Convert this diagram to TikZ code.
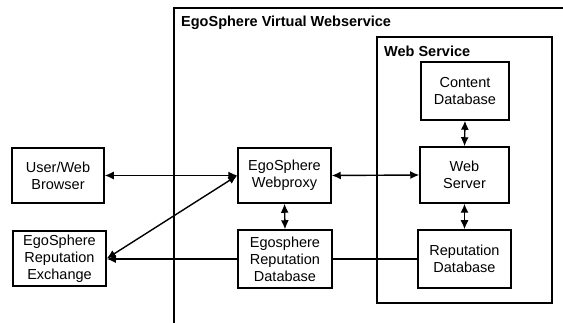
\documentclass[tikz,border=0pt]{standalone}
\usepackage{fontspec}
\setmainfont{Liberation Sans}
\usetikzlibrary{arrows.meta}
\tikzset{
  px/.style={x={(1pt,0)}, y={(0,-1pt)}},
  box/.style={draw=black, line width=1.5pt, fill=white, inner sep=0pt,
    align=center, font=\fontsize{14.5}{17}\selectfont},
  link/.style={line width=1.4pt, draw=black},
  tip/.style={-{Latex[length=9pt,width=8pt]}},
  tips/.style={{Latex[length=9pt,width=8pt]}-{Latex[length=9pt,width=8pt]}},
  frame/.style={draw=black, line width=1.5pt},
  title/.style={anchor=west, inner sep=0pt, font=\fontsize{14.5}{17}\selectfont\bfseries}
}
\begin{document}
\begin{tikzpicture}[px]
  \useasboundingbox[fill=white] (0,0) rectangle (563,323);

  % enclosing virtual web service (open to the right and bottom)
  \draw[frame] (563,8) -- (174,8) -- (174,323);
  \node[title] (vws) at (181,23) {EgoSphere Virtual Webservice};

  % inner web service container
  \draw[frame] (377,37) rectangle (552,303);
  \node[title] (ws) at (384,51) {Web Service};

  % components
  \node[box, minimum width=92pt, minimum height=55pt] (browser)  at (58,175.5)  {User/Web\\Browser};
  \node[box, minimum width=93pt, minimum height=55pt] (exchange) at (59.5,258.5) {EgoSphere\\Reputation\\Exchange};
  \node[box, minimum width=93pt, minimum height=55pt] (proxy)    at (284.5,175.5) {EgoSphere\\Webproxy};
  \node[box, minimum width=94pt, minimum height=58pt] (egodb)    at (285,259)   {Egosphere\\Reputation\\Database};
  \node[box, minimum width=88pt, minimum height=58pt] (content)  at (465,91)    {Content\\Database};
  \node[box, minimum width=89pt, minimum height=56pt] (server)   at (464.5,175) {Web\\Server};
  \node[box, minimum width=93pt, minimum height=58pt] (repdb)    at (464.5,259) {Reputation\\Database};

  % connectors
  \draw[link, tips] (browser.east) -- (proxy.west);
  \draw[link, tips] (proxy.west) -- (exchange.east);
  \draw[link, tip] (egodb.west) -- (exchange.east |- egodb.west);
  \draw[link, tips] (proxy.east) -- (server.west);
  \draw[link, tips] (proxy.south) -- (egodb.north);
  \draw[link, tips] (content.south) -- (server.north);
  \draw[link, tips] (server.south) -- (repdb.north);
  \draw[link] (egodb.east) -- (repdb.west);
\end{tikzpicture}
\end{document}
